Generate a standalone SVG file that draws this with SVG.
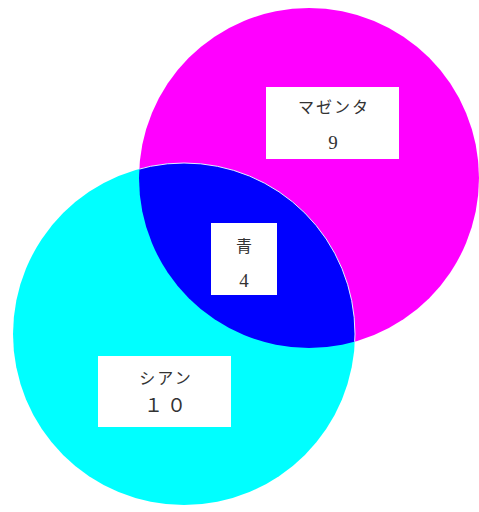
<svg xmlns="http://www.w3.org/2000/svg" width="479" height="512" viewBox="0 0 479 512">
<style>
.lbl{fill:#ffffff}
.t{font-family:"Liberation Serif","Noto Sans CJK JP",serif;font-size:19px;fill:#333333;text-anchor:middle}
.j{font-family:"Noto Sans CJK JP",sans-serif;font-size:16px;font-weight:400;fill:#333333;text-anchor:middle;letter-spacing:2px}
</style>
<defs>
<clipPath id="magClip"><circle cx="309" cy="178" r="170"/></clipPath>
</defs>
<rect width="479" height="512" fill="#ffffff"/>
<g id="magenta">
<circle cx="309" cy="178" r="170" fill="#ff00ff"/>
</g>
<g id="cyan">
<circle cx="184" cy="334" r="171" fill="#00ffff"/>
</g>
<g id="blue">
<circle cx="184" cy="334" r="171" fill="#0000ff" clip-path="url(#magClip)" stroke="#e8e8ff" stroke-width="1"/>
</g>
<g id="connectors"></g>
<g id="label-magenta">
<rect class="lbl" x="266" y="87" width="133" height="72"/>
<text class="j" x="334" y="113">マゼンタ</text>
<text class="t" x="333" y="149">9</text>
</g>
<g id="label-blue">
<rect class="lbl" x="211" y="223" width="66" height="72"/>
<text class="j" x="245" y="252">青</text>
<text class="t" x="244" y="287">4</text>
</g>
<g id="label-cyan">
<rect class="lbl" x="98" y="356" width="133" height="71"/>
<text class="j" x="166" y="384">シアン</text>
<text class="t" x="167" y="412" font-size="17" letter-spacing="4">１０</text>
</g>
</svg>
